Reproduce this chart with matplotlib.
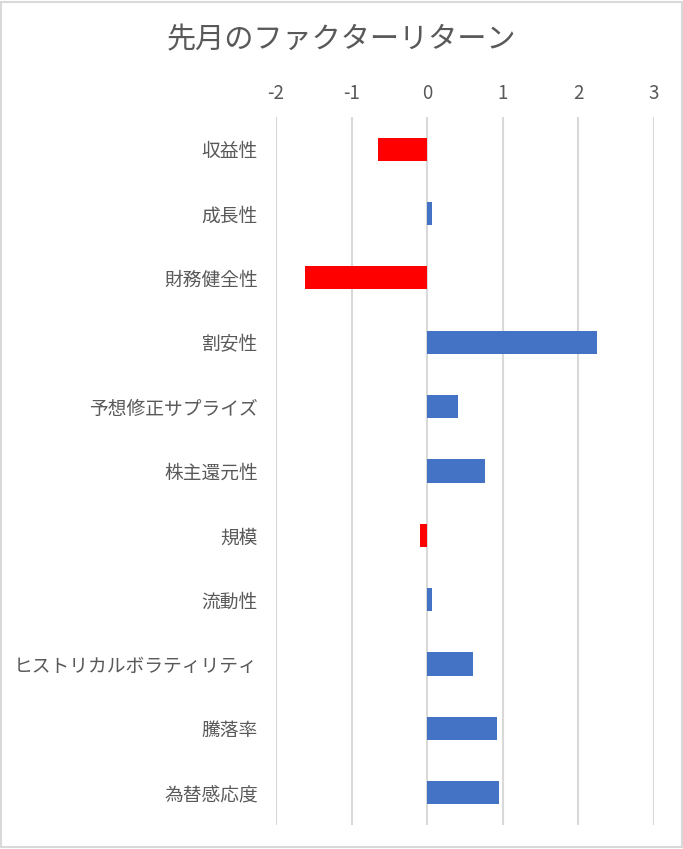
import matplotlib
matplotlib.use("Agg")
import matplotlib.pyplot as plt
from matplotlib.patches import Rectangle

plt.rcParams['font.family'] = ['Noto Sans CJK JP', 'DejaVu Sans']

title = "先月のファクターリターン"
categories = ["収益性", "成長性", "財務健全性", "割安性", "予想修正サプライズ",
              "株主還元性", "規模", "流動性", "ヒストリカルボラティリティ",
              "騰落率", "為替感応度"]
values = [-0.65, 0.07, -1.62, 2.25, 0.41, 0.77, -0.09, 0.06, 0.60, 0.92, 0.955]
xticks = [-2, -1, 0, 1, 2, 3]

TEXT = "#595959"
GRID = "#d9d9d9"
colors = ["#FF0000" if v < 0 else "#4472C4" for v in values]

fig = plt.figure(figsize=(6.83, 8.49), dpi=100)
fig.patch.set_facecolor("white")
fig.patches.append(Rectangle((0.002, 0.002), 0.996, 0.996, transform=fig.transFigure,
                             fill=False, edgecolor=GRID, linewidth=1.5))

ax = fig.add_axes([0.4041, 0.0283, 0.9575 - 0.4041, 0.8622 - 0.0283])
y = list(range(len(categories)))
ax.barh(y, values, height=0.36, color=colors, zorder=3)
ax.set_ylim(len(categories) - 0.5, -0.5)
ax.set_xlim(-2, 3)
ax.set_xticks(xticks)
ax.set_xticklabels([str(t) for t in xticks])
ax.xaxis.tick_top()
ax.set_yticks(y)
ax.set_yticklabels(categories)
ax.tick_params(axis='x', length=0, pad=9, labelsize=13.5, labelcolor=TEXT)
ax.tick_params(axis='y', length=0, pad=13, labelsize=13.5, labelcolor=TEXT)
ax.grid(axis='x', color=GRID, linewidth=1.5, zorder=0)
for s in ax.spines.values():
    s.set_visible(False)

fig.text(0.5, 1 - 40 / 849, title, ha='center', va='center', fontsize=21, color=TEXT)

fig.savefig("out.png", dpi=100)
